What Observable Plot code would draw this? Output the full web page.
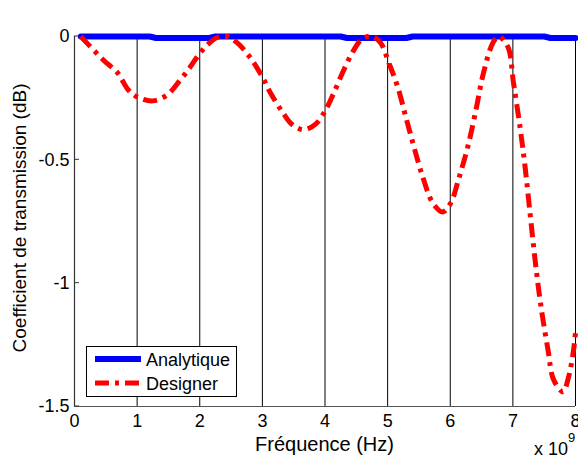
<!DOCTYPE html>
<html>
<head>
<meta charset="utf-8">
<script src="https://cdn.jsdelivr.net/npm/d3@7"></script>
<script src="https://cdn.jsdelivr.net/npm/@observablehq/plot@0.6"></script>
<style>
  html, body { margin: 0; padding: 0; background: white; }
  #chart { width: 578px; height: 459px; }
</style>
</head>
<body>
<div id="chart"></div>
<script>
// Tick values
const xTicks = [0, 1, 2, 3, 4, 5, 6, 7, 8];
const yTicks = [0, -0.5, -1, -1.5];

// Series "Analytique" (frequency in units of 1e9 Hz, dB)
const freqAnalytique = [0.1, 1.2, 1.3, 2.15, 2.25, 4.25, 4.35, 5.3, 5.4, 7.5, 7.6, 8.0];
const dbAnalytique   = [0, 0, -0.006, -0.006, 0, 0, -0.006, -0.006, 0, 0, -0.006, -0.006];

// Series "Designer"
const freqDesigner = [0.1, 0.46, 0.69, 0.86, 1.0, 1.25, 1.48, 1.69, 1.85, 1.98, 2.12, 2.28, 2.44, 2.6, 2.81, 3.0, 3.13, 3.32, 3.48, 3.66, 3.85, 4.01, 4.14, 4.3, 4.46, 4.6, 4.76, 4.89, 5.02, 5.16, 5.29, 5.42, 5.56, 5.72, 5.88, 6.01, 6.13, 6.28, 6.41, 6.53, 6.68, 6.77, 6.92, 7.01, 7.12, 7.2, 7.28, 7.36, 7.44, 7.56, 7.65, 7.8, 7.89, 7.97, 8.0];
const dbDesigner   = [0, -0.095, -0.148, -0.217, -0.245, -0.261, -0.237, -0.176, -0.123, -0.075, -0.034, -0.004, 0, -0.026, -0.087, -0.164, -0.229, -0.306, -0.358, -0.378, -0.355, -0.298, -0.229, -0.136, -0.055, -0.008, 0, -0.026, -0.107, -0.204, -0.326, -0.447, -0.569, -0.674, -0.711, -0.674, -0.581, -0.447, -0.298, -0.148, -0.026, 0, -0.042, -0.188, -0.378, -0.54, -0.731, -0.917, -1.079, -1.269, -1.391, -1.44, -1.38, -1.269, -1.2];

const seriesNames = ["Analytique", "Designer"];
const xLabel = "Fréquence (Hz)";
const yLabel = "Coefficient de transmission (dB)";

const analytique = freqAnalytique.map((f, i) => ({f, db: dbAnalytique[i]}));
const designer = freqDesigner.map((f, i) => ({f, db: dbDesigner[i]}));

const FONT = "'Liberation Sans', Arial, Helvetica, sans-serif";
const RED_DASH = "14,6,4,6";

const chart = Plot.plot({
  width: 578,
  height: 459,
  marginLeft: 74,
  marginRight: 3,
  marginTop: 36,
  marginBottom: 53,
  style: {fontFamily: FONT, fontSize: "18px", color: "black", background: "white", overflow: "visible"},
  x: {domain: [0, 8]},
  y: {domain: [-1.5, 0]},
  marks: [
    Plot.ruleX(xTicks.slice(1), {stroke: "black", strokeWidth: 1}),
    Plot.ruleX([0], {stroke: "#333", strokeWidth: 1.2}),
    Plot.ruleY([-1.5], {stroke: "#555", strokeWidth: 1.2}),
    Plot.axisX({ticks: xTicks, tickSize: 0, tickPadding: 8, label: null, tickFormat: d => String(d), fontSize: 18}),
    Plot.axisY({ticks: yTicks, tickSize: 0, tickPadding: 5, label: null, tickFormat: d => String(d), fontSize: 18}),
    Plot.line(analytique, {x: "f", y: "db", stroke: "#0000ff", strokeWidth: 6, strokeLinejoin: "round", curve: "linear"}),
    Plot.line(designer, {x: "f", y: "db", stroke: "#ff0000", strokeWidth: 5, strokeDasharray: RED_DASH, strokeLinecap: "butt", curve: "catmull-rom"})
  ]
});

document.getElementById("chart").appendChild(chart);

const svg = d3.select(chart);
const sx = chart.scale("x");
const sy = chart.scale("y");
const x0 = sx.apply(0);

// Inward y ticks
yTicks.forEach(v => {
  svg.append("line")
    .attr("x1", x0).attr("x2", x0 + 5)
    .attr("y1", sy.apply(v)).attr("y2", sy.apply(v))
    .attr("stroke", "#333").attr("stroke-width", 1);
});

// Axis labels
svg.append("text")
  .attr("x", (sx.apply(0) + sx.apply(8)) / 2)
  .attr("y", 451)
  .attr("text-anchor", "middle")
  .attr("font-family", FONT)
  .attr("font-size", 20)
  .attr("fill", "black")
  .text(xLabel);

svg.append("text")
  .attr("transform", `translate(26,${(sy.apply(0) + sy.apply(-1.5)) / 2 - 3}) rotate(-90)`)
  .attr("text-anchor", "middle")
  .attr("font-family", FONT)
  .attr("font-size", 19)
  .attr("fill", "black")
  .text(yLabel);

// Exponent
svg.append("text")
  .attr("x", 534).attr("y", 455)
  .attr("text-anchor", "start")
  .attr("font-family", FONT).attr("font-size", 18).attr("fill", "black")
  .text("x 10");
svg.append("text")
  .attr("x", 568).attr("y", 442)
  .attr("text-anchor", "start")
  .attr("font-family", FONT).attr("font-size", 13).attr("fill", "black")
  .text("9");

// Legend
const lg = svg.append("g");
lg.append("rect")
  .attr("x", 86.5).attr("y", 346.5).attr("width", 150).attr("height", 50)
  .attr("fill", "white").attr("stroke", "black").attr("stroke-width", 1);
lg.append("line")
  .attr("x1", 95).attr("x2", 141).attr("y1", 359).attr("y2", 359)
  .attr("stroke", "#0000ff").attr("stroke-width", 6);
lg.append("line")
  .attr("x1", 95).attr("x2", 141).attr("y1", 383).attr("y2", 383)
  .attr("stroke", "#ff0000").attr("stroke-width", 5).attr("stroke-dasharray", RED_DASH);
lg.append("text").attr("x", 146).attr("y", 365.5).attr("text-anchor", "start")
  .attr("font-family", FONT).attr("font-size", 18).attr("fill", "black").text(seriesNames[0]);
lg.append("text").attr("x", 146).attr("y", 389.5).attr("text-anchor", "start")
  .attr("font-family", FONT).attr("font-size", 18).attr("fill", "black").text(seriesNames[1]);
</script>
</body>
</html>
